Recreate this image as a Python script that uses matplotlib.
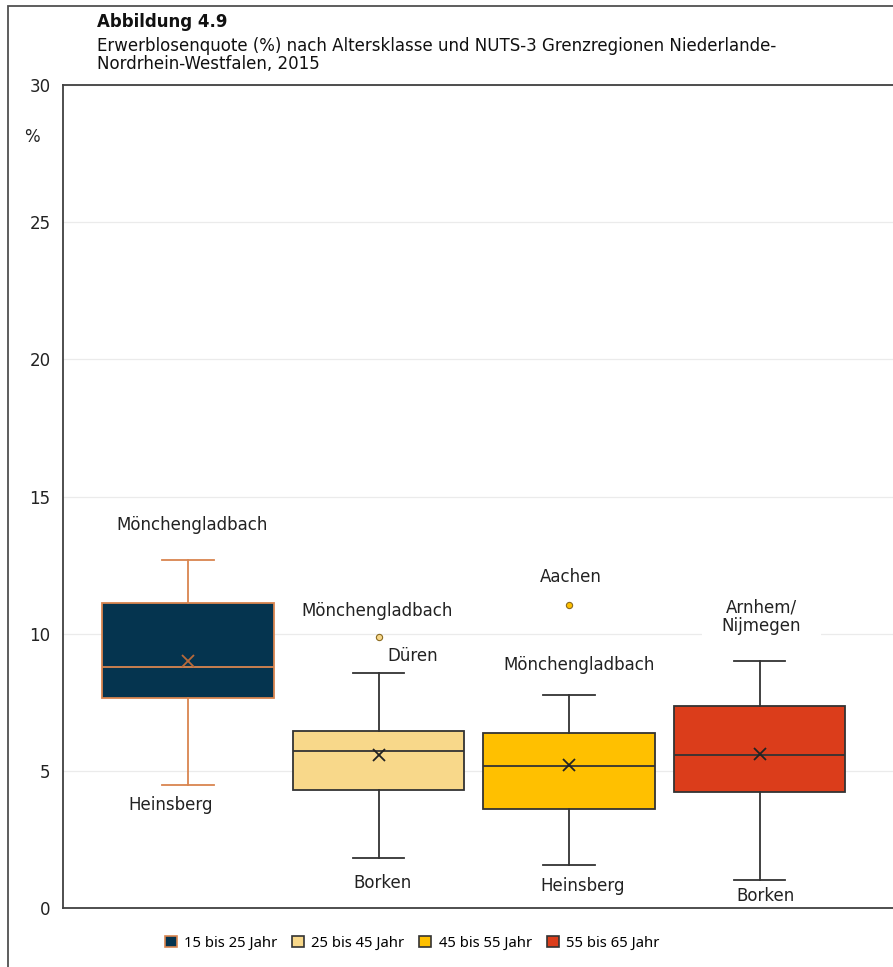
import matplotlib
matplotlib.use('Agg')
from matplotlib import pyplot as plt
from matplotlib.patches import Patch, Rectangle

# Daten: Erwerblosenquote (%) nach Altersklasse
klassen = ['15 bis 25 Jahr', '25 bis 45 Jahr', '45 bis 55 Jahr', '55 bis 65 Jahr']
whis_lo = [4.49, 1.84, 1.55, 1.03]
q1 = [7.66, 4.30, 3.62, 4.23]
median = [8.80, 5.71, 5.17, 5.56]
mittel = [8.99, 5.56, 5.21, 5.61]
q3 = [11.12, 6.44, 6.39, 7.36]
whis_hi = [12.69, 8.58, 7.77, 9.01]
ausreisser = [[], [9.89], [11.05], []]

farben = ['#05344F', '#F8D88A', '#FFC000', '#DB3D1B']
rand = ['#D9854F', '#333333', '#333333', '#333333']

# Regionsbeschriftungen (Text, x, y)
labels = [
    ('Mönchengladbach', 0.02, 13.97),
    ('Heinsberg', -0.09, 3.74),
    ('Mönchengladbach', 0.99, 10.83),
    ('Düren', 1.18, 9.17),
    ('Borken', 1.02, 0.91),
    ('Aachen', 2.01, 12.08),
    ('Mönchengladbach', 2.05, 8.84),
    ('Heinsberg', 2.07, 0.79),
    ('Borken', 3.03, 0.45),
]

plt.rcParams['font.family'] = ['DejaVu Sans']

fig = plt.figure(figsize=(8.93, 9.67), dpi=100)
ax = fig.add_axes([63 / 893, 1 - 908 / 967, 1 - 63 / 893, (908 - 85) / 967])

stats = []
for i in range(len(klassen)):
    stats.append(dict(med=median[i], q1=q1[i], q3=q3[i], whislo=whis_lo[i],
                      whishi=whis_hi[i], mean=mittel[i], fliers=ausreisser[i]))

pos = list(range(len(klassen)))
bp = ax.bxp(stats, positions=pos, widths=0.9, capwidths=0.27, showmeans=True,
            patch_artist=True, zorder=3)

for i in range(len(klassen)):
    bp['boxes'][i].set(facecolor=farben[i], edgecolor=rand[i], linewidth=1.3)
    bp['medians'][i].set(color=rand[i], linewidth=1.3)
    for ln in bp['whiskers'][2 * i:2 * i + 2] + bp['caps'][2 * i:2 * i + 2]:
        ln.set(color=rand[i], linewidth=1.3)
    mc = '#B8693A' if i == 0 else '#222222'
    bp['means'][i].set(marker='x', markersize=8, markeredgewidth=1.3,
                       markeredgecolor=mc, markerfacecolor=mc)
    bp['fliers'][i].set(marker='o', markersize=4.5, markerfacecolor=farben[i],
                        markeredgecolor='#8a6a20', markeredgewidth=0.8)

for txt, x, y in labels:
    ax.text(x, y, txt, ha='center', va='center', fontsize=12, color='#222222', zorder=4)
ax.text(3.01, 10.63, 'Arnhem/\nNijmegen', ha='center', va='center', fontsize=12,
        color='#222222', linespacing=1.05, zorder=4,
        bbox=dict(facecolor='white', edgecolor='none', pad=14))

ax.set_xlim(-0.656, 3.70)
ax.set_ylim(0, 30)
ax.set_yticks([0, 5, 10, 15, 20, 25, 30])
ax.set_xticks([])
ax.tick_params(axis='y', length=0, pad=9, labelsize=12, labelcolor='#222222')
ax.yaxis.grid(True, color='#EBEBEB', linewidth=0.9, zorder=0)
ax.set_axisbelow(True)
for s in ['left', 'top', 'bottom']:
    ax.spines[s].set_color('#404040')
    ax.spines[s].set_linewidth(1.3)
ax.spines['right'].set_visible(False)

ax.text(-0.037, 28.1, '%', transform=ax.get_yaxis_transform(), ha='center', va='center',
        fontsize=12, color='#222222')

# Titel
fig.text(97 / 893, 1 - 22 / 967, 'Abbildung 4.9', fontsize=12, fontweight='bold',
         ha='left', va='center', color='#111111')
fig.text(97 / 893, 1 - 55 / 967,
         'Erwerblosenquote (%) nach Altersklasse und NUTS-3 Grenzregionen Niederlande-\nNordrhein-Westfalen, 2015',
         fontsize=12, ha='left', va='center', linespacing=1.05, color='#111111')

# äußerer Rahmen
fig.add_artist(Rectangle((8 / 893, -0.1), 2, 1.1 - 6 / 967, transform=fig.transFigure,
                         fill=False, edgecolor='#505050', linewidth=1.3))

# Legende
handles = [Patch(facecolor=farben[i], edgecolor=rand[i], linewidth=1.2) for i in range(len(klassen))]
fig.legend(handles, klassen, loc='center', bbox_to_anchor=(412 / 893, 1 - 943 / 967), ncol=4,
           frameon=False, handlelength=0.8, handleheight=0.8, handletextpad=0.5,
           columnspacing=1.0, prop={'family': 'Noto Sans', 'size': 10.7})

plt.savefig('out.png', dpi=100)
